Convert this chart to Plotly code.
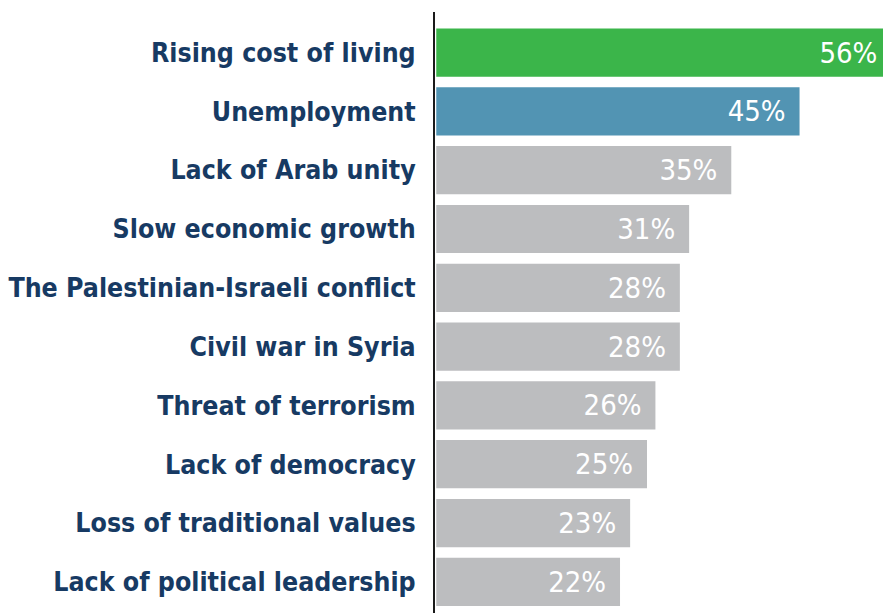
import plotly.graph_objects as go

categories = [
    "Rising cost of living",
    "Unemployment",
    "Lack of Arab unity",
    "Slow economic growth",
    "The Palestinian-Israeli conflict",
    "Civil war in Syria",
    "Threat of terrorism",
    "Lack of democracy",
    "Loss of traditional values",
    "Lack of political leadership",
]
# bar lengths as drawn in the picture (percent); the first bar runs to the chart edge
bar_lengths = [53.0, 43.1, 35.0, 30.0, 28.9, 28.9, 26.0, 25.0, 23.0, 21.8]
# labels printed on the bars
pct_labels = ["56%", "45%", "35%", "31%", "28%", "28%", "26%", "25%", "23%", "22%"]
bar_colors = ["#3bb54a", "#5294b3"] + ["#bcbdbf"] * 8

FONT = "DejaVu Sans Condensed, Liberation Sans Narrow, Roboto, sans-serif"

# right padding of the in-bar labels (first bar is clipped at the chart edge)
templates = ["%{text}\u200a"] + ["%{text}\u00a0\u200a"] * (len(categories) - 1)

fig = go.Figure(
    go.Bar(
        y=categories,
        x=bar_lengths,
        orientation="h",
        marker=dict(color=bar_colors, line=dict(width=0)),
        text=pct_labels,
        texttemplate=templates,
        textposition="inside",
        insidetextanchor="end",
        textfont=dict(family=FONT, size=29, color="white"),
        width=0.82,
        hoverinfo="skip",
    )
)

fig.update_layout(
    width=883,
    height=613,
    margin=dict(l=435, r=0, t=12, b=0),
    paper_bgcolor="white",
    plot_bgcolor="white",
    showlegend=False,
    uniformtext=dict(mode=False),
    xaxis=dict(
        range=[-0.15, 53.0],
        showgrid=False,
        zeroline=False,
        showticklabels=False,
        ticks="",
        automargin=False,
    ),
    yaxis=dict(
        categoryorder="array",
        categoryarray=categories,
        range=[9.53, -0.69],
        showgrid=False,
        zeroline=False,
        showline=True,
        linecolor="#1a1a1a",
        linewidth=2,
        ticks="",
        automargin=False,
        ticklabelstandoff=12,
        tickfont=dict(family=FONT, size=26.5, color="#173a63", weight="bold"),
    ),
)

fig.write_html(
    "out.html",
    config={"displayModeBar": False},
    post_script="document.body.style.margin='0';document.body.style.overflow='hidden';",
)
